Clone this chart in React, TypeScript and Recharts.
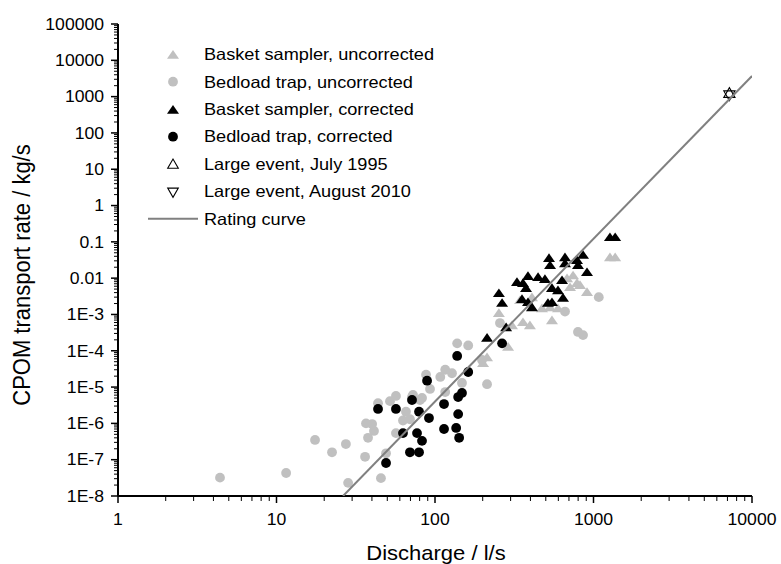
import React from 'react';
import { ScatterChart, Scatter, XAxis, YAxis, Legend } from 'recharts';

// discharge (l/s) and CPOM transport rate (kg/s)
const basketUncorrQ = [213, 201, 289, 253, 344, 359, 397, 473, 532, 547, 597, 681, 743, 787, 822, 910, 711, 1270, 1370, 409, 306];
const basketUncorrRate = [6.7e-5, 4.6e-5, 1.3e-4, 1.1e-3, 2.5e-3, 6.2e-4, 5.1e-4, 1.5e-3, 1.6e-3, 7.0e-4, 1.5e-3, 0.010, 0.012, 7.4e-3, 6.5e-3, 4.2e-3, 5.7e-3, 0.038, 0.038, 3.0e-3, 5.1e-4];

const trapUncorrQ = [4.4, 11.5, 17.5, 22.4, 27.4, 28.3, 36.2, 36.7, 40.1, 41.2, 37.8, 43.7, 45.6, 49.1, 52, 56.7, 56.7, 62.8, 65.6, 69.5, 71.6, 80.4, 87.8, 93, 108, 116, 116, 128, 148, 138, 162, 213, 198, 257, 661, 1080, 798, 859, 72.6, 82.8];
const trapUncorrRate = [3.2e-8, 4.3e-8, 3.5e-7, 1.6e-7, 2.7e-7, 2.3e-8, 1.2e-7, 1.0e-6, 9.6e-7, 6.2e-7, 4.0e-7, 3.6e-6, 3.1e-8, 1.5e-7, 4.1e-6, 5.7e-6, 5.4e-7, 1.2e-6, 2.1e-6, 1.3e-6, 5.3e-6, 4.4e-6, 2.2e-5, 8.9e-6, 1.9e-5, 3.0e-5, 7.3e-6, 2.4e-5, 1.3e-5, 1.6e-4, 1.4e-4, 1.2e-5, 5.6e-5, 5.8e-4, 1.2e-3, 3.0e-3, 3.3e-4, 2.7e-4, 6.1e-6, 5.0e-6];

const basketCorrQ = [213, 281, 253, 265, 329, 359, 386, 375, 354, 386, 447, 494, 516, 524, 532, 661, 661, 633, 547, 597, 547, 642, 787, 859, 798, 910, 409, 1270, 1370];
const basketCorrRate = [2.3e-4, 4.5e-4, 3.9e-3, 2.1e-3, 7.9e-3, 7.4e-3, 0.0115, 5.4e-3, 2.7e-3, 2.2e-3, 0.0108, 9.5e-3, 2.1e-3, 0.036, 0.023, 0.038, 0.026, 8.9e-3, 5.4e-3, 4.7e-3, 2.2e-3, 2.9e-3, 0.032, 0.044, 0.023, 0.0148, 1.6e-3, 0.136, 0.136];

const trapCorrQ = [43.7, 56.7, 71.6, 79.3, 91.6, 89.1, 114, 138, 162, 148, 140, 140, 62.8, 77, 82.8, 69.5, 79.3, 114, 136, 142, 49.1, 265];
const trapCorrRate = [2.5e-6, 2.5e-6, 4.4e-6, 2.1e-6, 1.4e-6, 1.5e-5, 3.4e-6, 7.2e-5, 2.6e-5, 6.9e-6, 5.3e-6, 1.8e-6, 5.4e-7, 5.4e-7, 3.3e-7, 1.6e-7, 1.6e-7, 7.0e-7, 7.5e-7, 4.0e-7, 8.1e-8, 1.6e-4];

const july1995Q = [7200];
const july1995Rate = [1170];
const aug2010Q = [7200];
const aug2010Rate = [1170];

const ratingQ = [26.3, 10000];
const ratingRate = [1e-8, 3700];

const xMajorLabels = ['1', '10', '100', '1000', '10000'];
const yMajorLabels = ['1E-8', '1E-7', '1E-6', '1E-5', '1E-4', '1E-3', '0.01', '0.1', '1', '10', '100', '1000', '10000', '100000'];

const GRAY = '#c0c0c0';
const FONT = 'Arial, "Liberation Sans", sans-serif';
const SX = 1.1; // the source figure's text is a little wider than tall

const zip = (q: number[], r: number[]) => q.map((v, i) => ({ q: v, rate: r[i] }));

// log ticks: 1..9 in every decade, last decade only its 1
const logTicks = (from: number, to: number) => {
  const out: number[] = [];
  for (let e = from; e < to; e++) {
    for (let m = 1; m <= 9; m++) out.push(Number((m * Math.pow(10, e)).toPrecision(3)));
  }
  out.push(Math.pow(10, to));
  return out;
};
const xTicks = logTicks(0, 4);
const yTicks = logTicks(-8, 5);

const decade = (v: number) => {
  const l = Math.log10(v);
  return Math.abs(l - Math.round(l)) < 1e-6 ? Math.round(l) : null;
};

const WideText = ({ x, y, anchor, size, children }: any) => (
  <text
    transform={`translate(${x},${y}) scale(${SX},1)`}
    dy="0.36em"
    textAnchor={anchor}
    fontSize={size}
    fill="#000"
    fontFamily={FONT}
  >
    {children}
  </text>
);

const XTick = (props: any) => {
  const { x, y, payload } = props;
  const d = decade(payload.value);
  const major = d !== null;
  return (
    <g>
      <line x1={x} x2={x} y1={y} y2={y + (major ? 7 : 5)} stroke="#000" strokeWidth={major ? 1.5 : 1} />
      {major && (
        <WideText x={x} y={y + 23} anchor="middle" size={16}>
          {xMajorLabels[d as number]}
        </WideText>
      )}
    </g>
  );
};

const YTick = (props: any) => {
  const { x, y, payload } = props;
  const d = decade(payload.value);
  const major = d !== null;
  return (
    <g>
      <line x1={x} x2={x - (major ? 7 : 4)} y1={y} y2={y} stroke="#000" strokeWidth={major ? 1.5 : 1} />
      {major && (
        <WideText x={x - 14} y={y} anchor="end" size={16}>
          {yMajorLabels[(d as number) + 8]}
        </WideText>
      )}
    </g>
  );
};

// filled markers: 12 wide, ~10 tall
const triPath = (cx: number, cy: number, w = 6) => {
  const h = w * 0.85;
  return `M${cx - w},${cy + h * 0.8} L${cx + w},${cy + h * 0.8} L${cx},${cy - h * 0.9} Z`;
};

// open markers: equilateral, centred on the centroid so up + down make a star
const eqTriPath = (cx: number, cy: number, w: number, down: boolean) => {
  const H = w * Math.sqrt(3);
  const s = down ? -1 : 1;
  return `M${cx - w},${cy + (s * H) / 3} L${cx + w},${cy + (s * H) / 3} L${cx},${cy - (s * 2 * H) / 3} Z`;
};

const FilledTri = (color: string) => (p: any) => <path d={triPath(p.cx, p.cy)} fill={color} />;
const FilledDot = (color: string) => (p: any) => <circle cx={p.cx} cy={p.cy} r={4.9} fill={color} />;
const OpenTri = (down: boolean) => (p: any) => (
  <path d={eqTriPath(p.cx, p.cy, 5.6, down)} fill="none" stroke="#000" strokeWidth={1.1} />
);
const NoDot = () => <g />;

const legendItems = [
  { name: 'Basket sampler, uncorrected', kind: 'tri', color: GRAY },
  { name: 'Bedload trap, uncorrected', kind: 'dot', color: GRAY },
  { name: 'Basket sampler, corrected', kind: 'tri', color: '#000' },
  { name: 'Bedload trap, corrected', kind: 'dot', color: '#000' },
  { name: 'Large event, July 1995', kind: 'openUp', color: '#000' },
  { name: 'Large event, August 2010', kind: 'openDown', color: '#000' },
  { name: 'Rating curve', kind: 'line', color: '#808080' },
];

const LegendIcon = ({ kind, color }: { kind: string; color: string }) => (
  <svg width={54} height={27.4} style={{ display: 'block' }}>
    {kind === 'tri' && <path d={triPath(27, 13.7)} fill={color} />}
    {kind === 'dot' && <circle cx={27} cy={13.7} r={4.9} fill={color} />}
    {kind === 'openUp' && <path d={eqTriPath(27, 14.2, 5.3, false)} fill="none" stroke={color} strokeWidth={1.1} />}
    {kind === 'openDown' && <path d={eqTriPath(27, 13.2, 5.3, true)} fill="none" stroke={color} strokeWidth={1.1} />}
    {kind === 'line' && <line x1={2} x2={52} y1={13.7} y2={13.7} stroke={color} strokeWidth={2} />}
  </svg>
);

const LegendBox = () => (
  <div style={{ fontFamily: FONT, fontSize: 16.5, color: '#000' }}>
    {legendItems.map((it) => (
      <div key={it.name} style={{ display: 'flex', alignItems: 'center', height: 27.4 }}>
        <LegendIcon kind={it.kind} color={it.color} />
        <span
          style={{
            marginLeft: 4,
            whiteSpace: 'nowrap',
            display: 'inline-block',
            transform: `scaleX(${SX})`,
            transformOrigin: 'left center',
          }}
        >
          {it.name}
        </span>
      </div>
    ))}
  </div>
);

export default function App() {
  return (
    <div style={{ position: 'absolute', left: 0, top: 0, width: 781, height: 564, background: '#fff', fontFamily: FONT }}>
      <ScatterChart width={781} height={564} margin={{ top: 24, right: 29, bottom: 0, left: 0 }}>
        <XAxis
          type="number"
          dataKey="q"
          scale="log"
          domain={[1, 10000]}
          allowDataOverflow
          ticks={xTicks}
          interval={0}
          height={68}
          tickSize={0}
          tickMargin={0}
          tickLine={false}
          tick={<XTick />}
          axisLine={{ stroke: '#000', strokeWidth: 2 }}
          label={{
            value: 'Discharge / l/s',
            content: () => (
              <WideText x={436} y={553} anchor="middle" size={20}>
                Discharge / l/s
              </WideText>
            ),
          }}
        />
        <YAxis
          type="number"
          dataKey="rate"
          scale="log"
          domain={[1e-8, 1e5]}
          allowDataOverflow
          ticks={yTicks}
          interval={0}
          width={118}
          tickSize={0}
          tickMargin={0}
          tickLine={false}
          tick={<YTick />}
          axisLine={{ stroke: '#000', strokeWidth: 2 }}
          label={{
            value: 'CPOM transport rate / kg/s',
            content: () => (
              <text
                transform={`translate(21,275) scale(${SX},1) rotate(-90)`}
                dy="0.36em"
                textAnchor="middle"
                fontSize={22}
                fill="#000"
                fontFamily={FONT}
              >
                CPOM transport rate / kg/s
              </text>
            ),
          }}
        />
        <Legend
          layout="vertical"
          align="center"
          verticalAlign="middle"
          content={() => <LegendBox />}
          wrapperStyle={{ left: 146, top: 41, width: 330, height: 192 }}
        />
        <Scatter name="Basket sampler, uncorrected" data={zip(basketUncorrQ, basketUncorrRate)} shape={FilledTri(GRAY)} isAnimationActive={false} />
        <Scatter name="Bedload trap, uncorrected" data={zip(trapUncorrQ, trapUncorrRate)} shape={FilledDot(GRAY)} isAnimationActive={false} />
        <Scatter name="Basket sampler, corrected" data={zip(basketCorrQ, basketCorrRate)} shape={FilledTri('#000')} isAnimationActive={false} />
        <Scatter name="Bedload trap, corrected" data={zip(trapCorrQ, trapCorrRate)} shape={FilledDot('#000')} isAnimationActive={false} />
        <Scatter name="Large event, July 1995" data={zip(july1995Q, july1995Rate)} shape={OpenTri(false)} isAnimationActive={false} />
        <Scatter name="Large event, August 2010" data={zip(aug2010Q, aug2010Rate)} shape={OpenTri(true)} isAnimationActive={false} />
        <Scatter
          name="Rating curve"
          data={zip(ratingQ, ratingRate)}
          line={{ stroke: '#808080', strokeWidth: 2 }}
          shape={NoDot}
          isAnimationActive={false}
        />
      </ScatterChart>
    </div>
  );
}
